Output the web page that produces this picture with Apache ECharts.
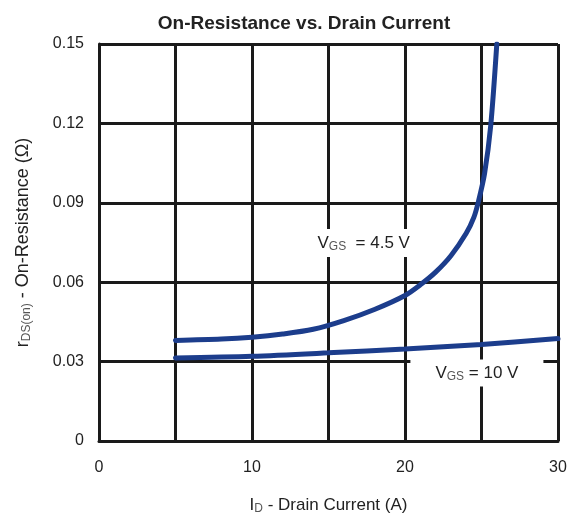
<!DOCTYPE html>
<html><head><meta charset="utf-8">
<script src="https://cdn.jsdelivr.net/npm/echarts@6/dist/echarts.min.js"></script>
<style>html,body{margin:0;padding:0;background:#fff}#c{width:569px;height:520px}</style>
</head><body><div id="c"></div>
<script>
// Data
const xTicks = [0, 10, 20, 30];
const vgs45_x = [5, 8, 10, 12, 14, 16, 18, 20, 21, 22, 23, 24, 24.5, 24.8, 25.2, 25.6, 26.0];
const vgs45_y = [0.038, 0.0385, 0.0392, 0.0404, 0.0422, 0.0455, 0.0497, 0.055, 0.059, 0.0638, 0.070, 0.0785, 0.0845, 0.0905, 0.101, 0.119, 0.150];
const vgs10_x = [5, 10, 15, 20, 25, 30];
const vgs10_y = [0.0314, 0.032, 0.0333, 0.0348, 0.0365, 0.0387];
const labels = [
  {x: 17.3, y: 0.0748, text: '{v|V}{s|GS}{n|  = 4.5 V}', w: 98, h: 28},
  {x: 24.7, y: 0.0257, text: '{v|V}{s|GS}{n| = 10 V}', w: 133, h: 27}
];

const lineColor = '#1c3d8c';
const gridColor = '#1a1a1a';
const font = 'Liberation Sans, Arial, sans-serif';
const rich = {
  v: {fontSize: 17, color: '#222', fontFamily: font},
  s: {fontSize: 12, color: '#555', fontFamily: font, padding: [8, 0, 0, 0]},
  n: {fontSize: 17, color: '#222', fontFamily: font}
};

const chart = echarts.init(document.getElementById('c'), null, {renderer: 'canvas'});
chart.setOption({
  animation: false,
  backgroundColor: '#fff',
  title: {
    text: 'On-Resistance vs. Drain Current', left: 299, top: 9, textAlign: 'center',
    textStyle: {fontSize: 19, fontWeight: 'bold', color: '#222', fontFamily: font}
  },
  grid: {left: 99, right: 11, top: 44, bottom: 79, containLabel: false, outerBoundsMode: 'none'},
  xAxis: {
    type: 'value', min: 0, max: 30, interval: 5,
    axisLine: {show: true, onZero: false, lineStyle: {color: gridColor, width: 3}},
    axisTick: {show: false},
    splitLine: {show: true, lineStyle: {color: gridColor, width: 3}},
    axisLabel: {
      margin: 19, fontSize: 16, color: '#222', fontFamily: font,
      formatter: v => xTicks.includes(v) ? String(v) : ''
    },
    name: 'I{sub|D} - Drain Current (A)', nameLocation: 'middle', nameGap: 54,
    nameTextStyle: {fontSize: 17, color: '#222', fontFamily: font,
      rich: {sub: {fontSize: 12, color: '#555', padding: [8, 0, 0, 0], fontFamily: font}}}
  },
  yAxis: {
    type: 'value', min: 0, max: 0.15, interval: 0.03,
    axisLine: {show: true, onZero: false, lineStyle: {color: gridColor, width: 3}},
    axisTick: {show: false},
    splitLine: {show: true, lineStyle: {color: gridColor, width: 3}},
    axisLabel: {
      margin: 15, fontSize: 16, color: '#222', fontFamily: font,
      formatter: v => v === 0 ? '0' : v.toFixed(2)
    },
    name: 'r{sub|DS(on)} - On-Resistance (Ω)', nameLocation: 'middle', nameGap: 66, nameRotate: 90,
    nameTextStyle: {fontSize: 18, color: '#222', fontFamily: font,
      rich: {sub: {fontSize: 12, color: '#555', padding: [8, 0, 0, 0], fontFamily: font}}}
  },
  series: [
    {
      type: 'line', smooth: 0.3, symbol: 'none', clip: true,
      lineStyle: {color: lineColor, width: 5, cap: 'round'},
      data: vgs45_x.map((x, i) => [x, vgs45_y[i]]), z: 3
    },
    {
      type: 'line', smooth: 0.3, symbol: 'none',
      lineStyle: {color: lineColor, width: 5, cap: 'round'},
      data: vgs10_x.map((x, i) => [x, vgs10_y[i]]), z: 3
    },
    {
      type: 'scatter', z: 2, silent: true,
      data: labels.map(l => ({value: [l.x, l.y], symbolSize: [l.w, l.h],
        label: {show: true, position: 'inside', formatter: l.text, rich: rich}})),
      symbol: 'rect', itemStyle: {color: '#fff', opacity: 1}
    }
  ]
});
</script>
</body></html>
